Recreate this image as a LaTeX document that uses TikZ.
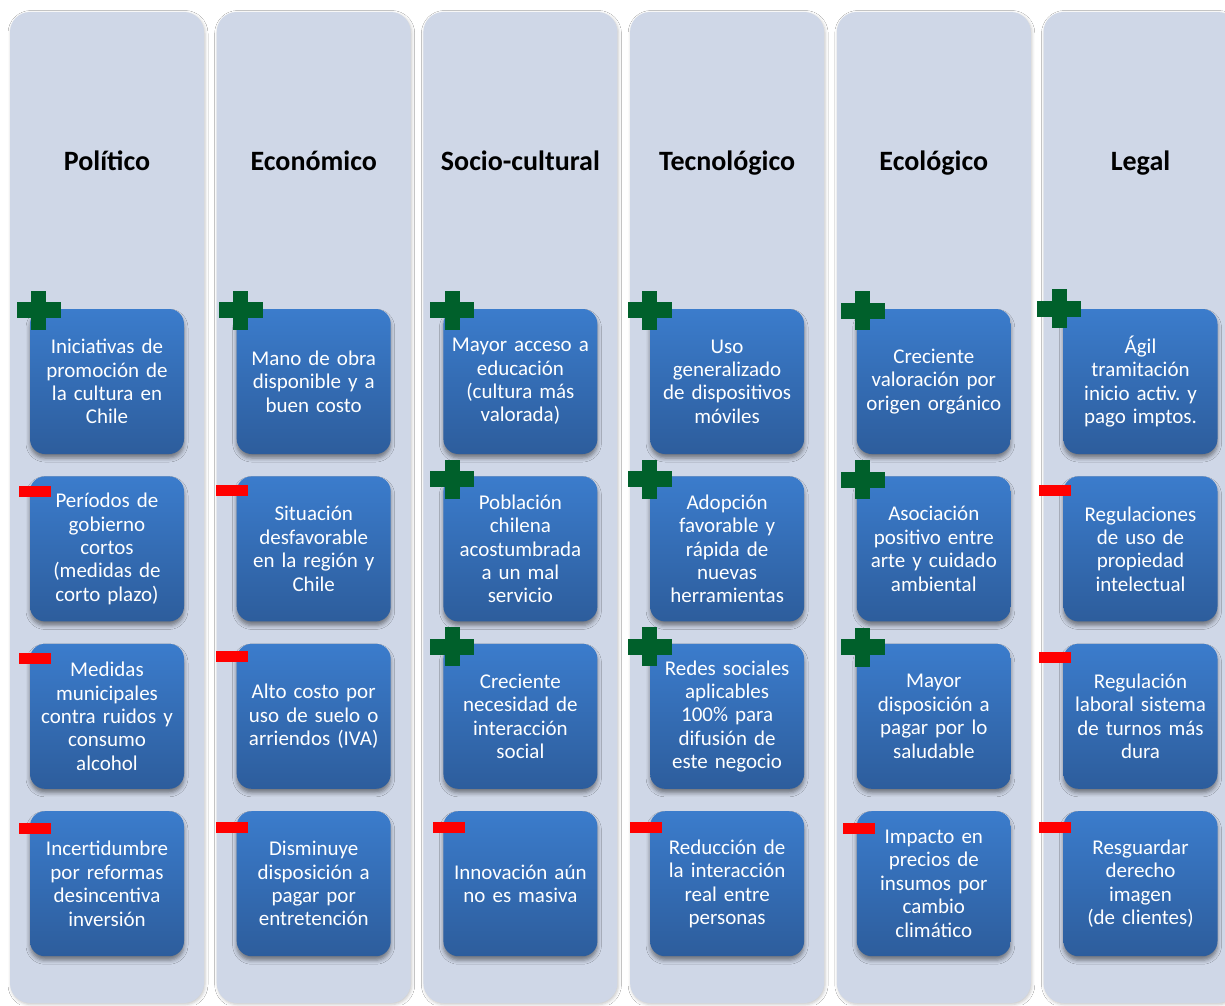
\documentclass[tikz,border=0pt]{standalone}
\usepackage{fontspec}
\setmainfont{Carlito}
\usepackage{tikz}
\usetikzlibrary{positioning, calc, shadows.blur}
\definecolor{colBg}{HTML}{CFD7E7}
\definecolor{boxTop}{HTML}{3B7CCC}
\definecolor{boxBot}{HTML}{2D5D9C}
\definecolor{posGreen}{HTML}{00602B}
\definecolor{negRed}{HTML}{FF0000}
\frenchspacing

\begin{document}
\begin{tikzpicture}[
    x=1pt, y=-1pt,
    node distance=22pt and 12.3pt,
    col/.style={rectangle, rounded corners=20pt, fill=colBg, minimum width=194pt, minimum height=991pt,
        blur shadow={shadow xshift=1pt, shadow yshift=-1.5pt, shadow blur radius=3pt, shadow opacity=22}},
    head/.style={anchor=base, font=\bfseries\fontsize{28}{32}\selectfont},
    item/.style={rectangle, rounded corners=15pt, top color=boxTop, bottom color=boxBot,
        minimum width=154pt, minimum height=145pt, text width=150pt, inner sep=2pt, align=center,
        text=white, font=\fontsize{21}{23.4}\selectfont,
        blur shadow={shadow xshift=0pt, shadow yshift=-4pt, shadow blur radius=4pt, shadow opacity=45}},
    negmark/.style={rectangle, fill=negRed, minimum width=32pt, minimum height=11pt, inner sep=0pt},
    pics/posmark/.style={code={
        \fill[posGreen] (-7.5,-19.5) rectangle (7.5,19.5);
        \fill[posGreen] (-22,-8) rectangle (22,8);
    }},
]
    \useasboundingbox (0,0) rectangle (1225,1005);
    \clip (0,0) rectangle (1225,1005);
    \fill[white] (0,0) rectangle (1225,1005);

    % columns
    \node[col] (c1) at (107,507.5) {};
    \node[col, right=of c1] (c2) {};
    \node[col, right=of c2] (c3) {};
    \node[col, right=of c3] (c4) {};
    \node[col, right=of c4] (c5) {};
    \node[col, right=of c5] (c6) {};

    \node[head] (h1) at (c1.center |- 0,170) {Político};
    \node[head] (h2) at (c2.center |- 0,170) {Económico};
    \node[head] (h3) at (c3.center |- 0,170) {Socio-cultural};
    \node[head] (h4) at (c4.center |- 0,170) {Tecnológico};
    \node[head] (h5) at (c5.center |- 0,170) {Ecológico};
    \node[head] (h6) at (c6.center |- 0,170) {Legal};

    % politico
    \node[item] (p1) at (c1.center |- 0,381.5) {Iniciativas de\\promoción de\\la cultura en\\Chile};
    \node[item, below=of p1] (p2) {Períodos de\\gobierno\\cortos\\(medidas de\\corto plazo)};
    \node[item, below=of p2] (p3) {Medidas\\municipales\\contra ruidos y\\consumo\\alcohol};
    \node[item, below=of p3] (p4) {Incertidumbre\\por reformas\\desincentiva\\inversión};
    \pic (sp1) at ($(p1.north west)+(9,1.5)$) {posmark};
    \node[negmark] (sp2) at ($(p2.north west)+(5,15)$) {};
    \node[negmark] (sp3) at ($(p3.north west)+(5,14.5)$) {};
    \node[negmark] (sp4) at ($(p4.north west)+(5,17)$) {};

    % economico
    \node[item] (e1) at (c2.center |- 0,381.5) {Mano de obra\\disponible y a\\buen costo};
    \node[item, below=of e1] (e2) {Situación\\desfavorable\\en la región y\\Chile};
    \node[item, below=of e2] (e3) {Alto costo por\\uso de suelo o\\arriendos (IVA)};
    \node[item, below=of e3] (e4) {Disminuye\\disposición a\\pagar por\\entretención};
    \pic (se1) at ($(e1.north west)+(4,1.5)$) {posmark};
    \node[negmark] (se2) at ($(e2.north west)+(-5,14)$) {};
    \node[negmark] (se3) at ($(e3.north west)+(-5,13)$) {};
    \node[negmark] (se4) at ($(e4.north west)+(-5,16)$) {};

    % socio-cultural
    \node[item] (s1) at (c3.center |- 0,381.5) {Mayor acceso a\\educación\\(cultura más\\valorada)};
    \node[item, below=of s1] (s2) {Población\\chilena\\acostumbrada\\a un mal\\servicio};
    \node[item, below=of s2] (s3) {Creciente\\necesidad de\\interacción\\social};
    \node[item, below=of s3] (s4) {Innovación aún\\no es masiva};
    \pic (ss1) at ($(s1.north west)+(9,1.5)$) {posmark};
    \pic (ss2) at ($(s2.north west)+(9,3)$) {posmark};
    \pic (ss3) at ($(s3.north west)+(9,3)$) {posmark};
    \node[negmark] (ss4) at ($(s4.north west)+(5.5,16.5)$) {};

    % tecnologico
    \node[item] (t1) at (c4.center |- 0,381.5) {Uso\\generalizado\\de dispositivos\\móviles};
    \node[item, below=of t1] (t2) {Adopción\\favorable y\\rápida de\\nuevas\\herramientas};
    \node[item, below=of t2] (t3) {Redes sociales\\aplicables\\100\% para\\difusión de\\este negocio};
    \node[item, below=of t3] (t4) {Reducción de\\la interacción\\real entre\\personas};
    \pic (st1) at ($(t1.north west)+(0,1.5)$) {posmark};
    \pic (st2) at ($(t2.north west)+(0,3)$) {posmark};
    \pic (st3) at ($(t3.north west)+(0,3)$) {posmark};
    \node[negmark] (st4) at ($(t4.north west)+(-3.5,16.5)$) {};

    % ecologico
    \node[item] (g1) at (c5.center |- 0,381.5) {Creciente\\valoración por\\origen orgánico};
    \node[item, below=of g1] (g2) {Asociación\\positivo entre\\arte y cuidado\\ambiental};
    \node[item, below=of g2] (g3) {Mayor\\disposición a\\pagar por lo\\saludable};
    \node[item, below=of g3] (g4) {Impacto en\\precios de\\insumos por\\cambio\\climático};
    \pic (sg1) at ($(g1.north west)+(6,2)$) {posmark};
    \pic (sg2) at ($(g2.north west)+(6,3.5)$) {posmark};
    \pic (sg3) at ($(g3.north west)+(6,3.5)$) {posmark};
    \node[negmark] (sg4) at ($(g4.north west)+(2.5,17.5)$) {};

    % legal
    \node[item] (l1) at (c6.center |- 0,381.5) {Ágil\\tramitación\\inicio activ. y\\pago imptos.};
    \node[item, below=of l1] (l2) {Regulaciones\\de uso de\\propiedad\\intelectual};
    \node[item, below=of l2] (l3) {Regulación\\laboral sistema\\de turnos más\\dura};
    \node[item, below=of l3] (l4) {Resguardar\\derecho\\imagen\\(de clientes)};
    \pic (sl1) at ($(l1.north west)+(-4,0)$) {posmark};
    \node[negmark] (sl2) at ($(l2.north west)+(-8,14)$) {};
    \node[negmark] (sl3) at ($(l3.north west)+(-8,14)$) {};
    \node[negmark] (sl4) at ($(l4.north west)+(-8,16.5)$) {};
\end{tikzpicture}
\end{document}
